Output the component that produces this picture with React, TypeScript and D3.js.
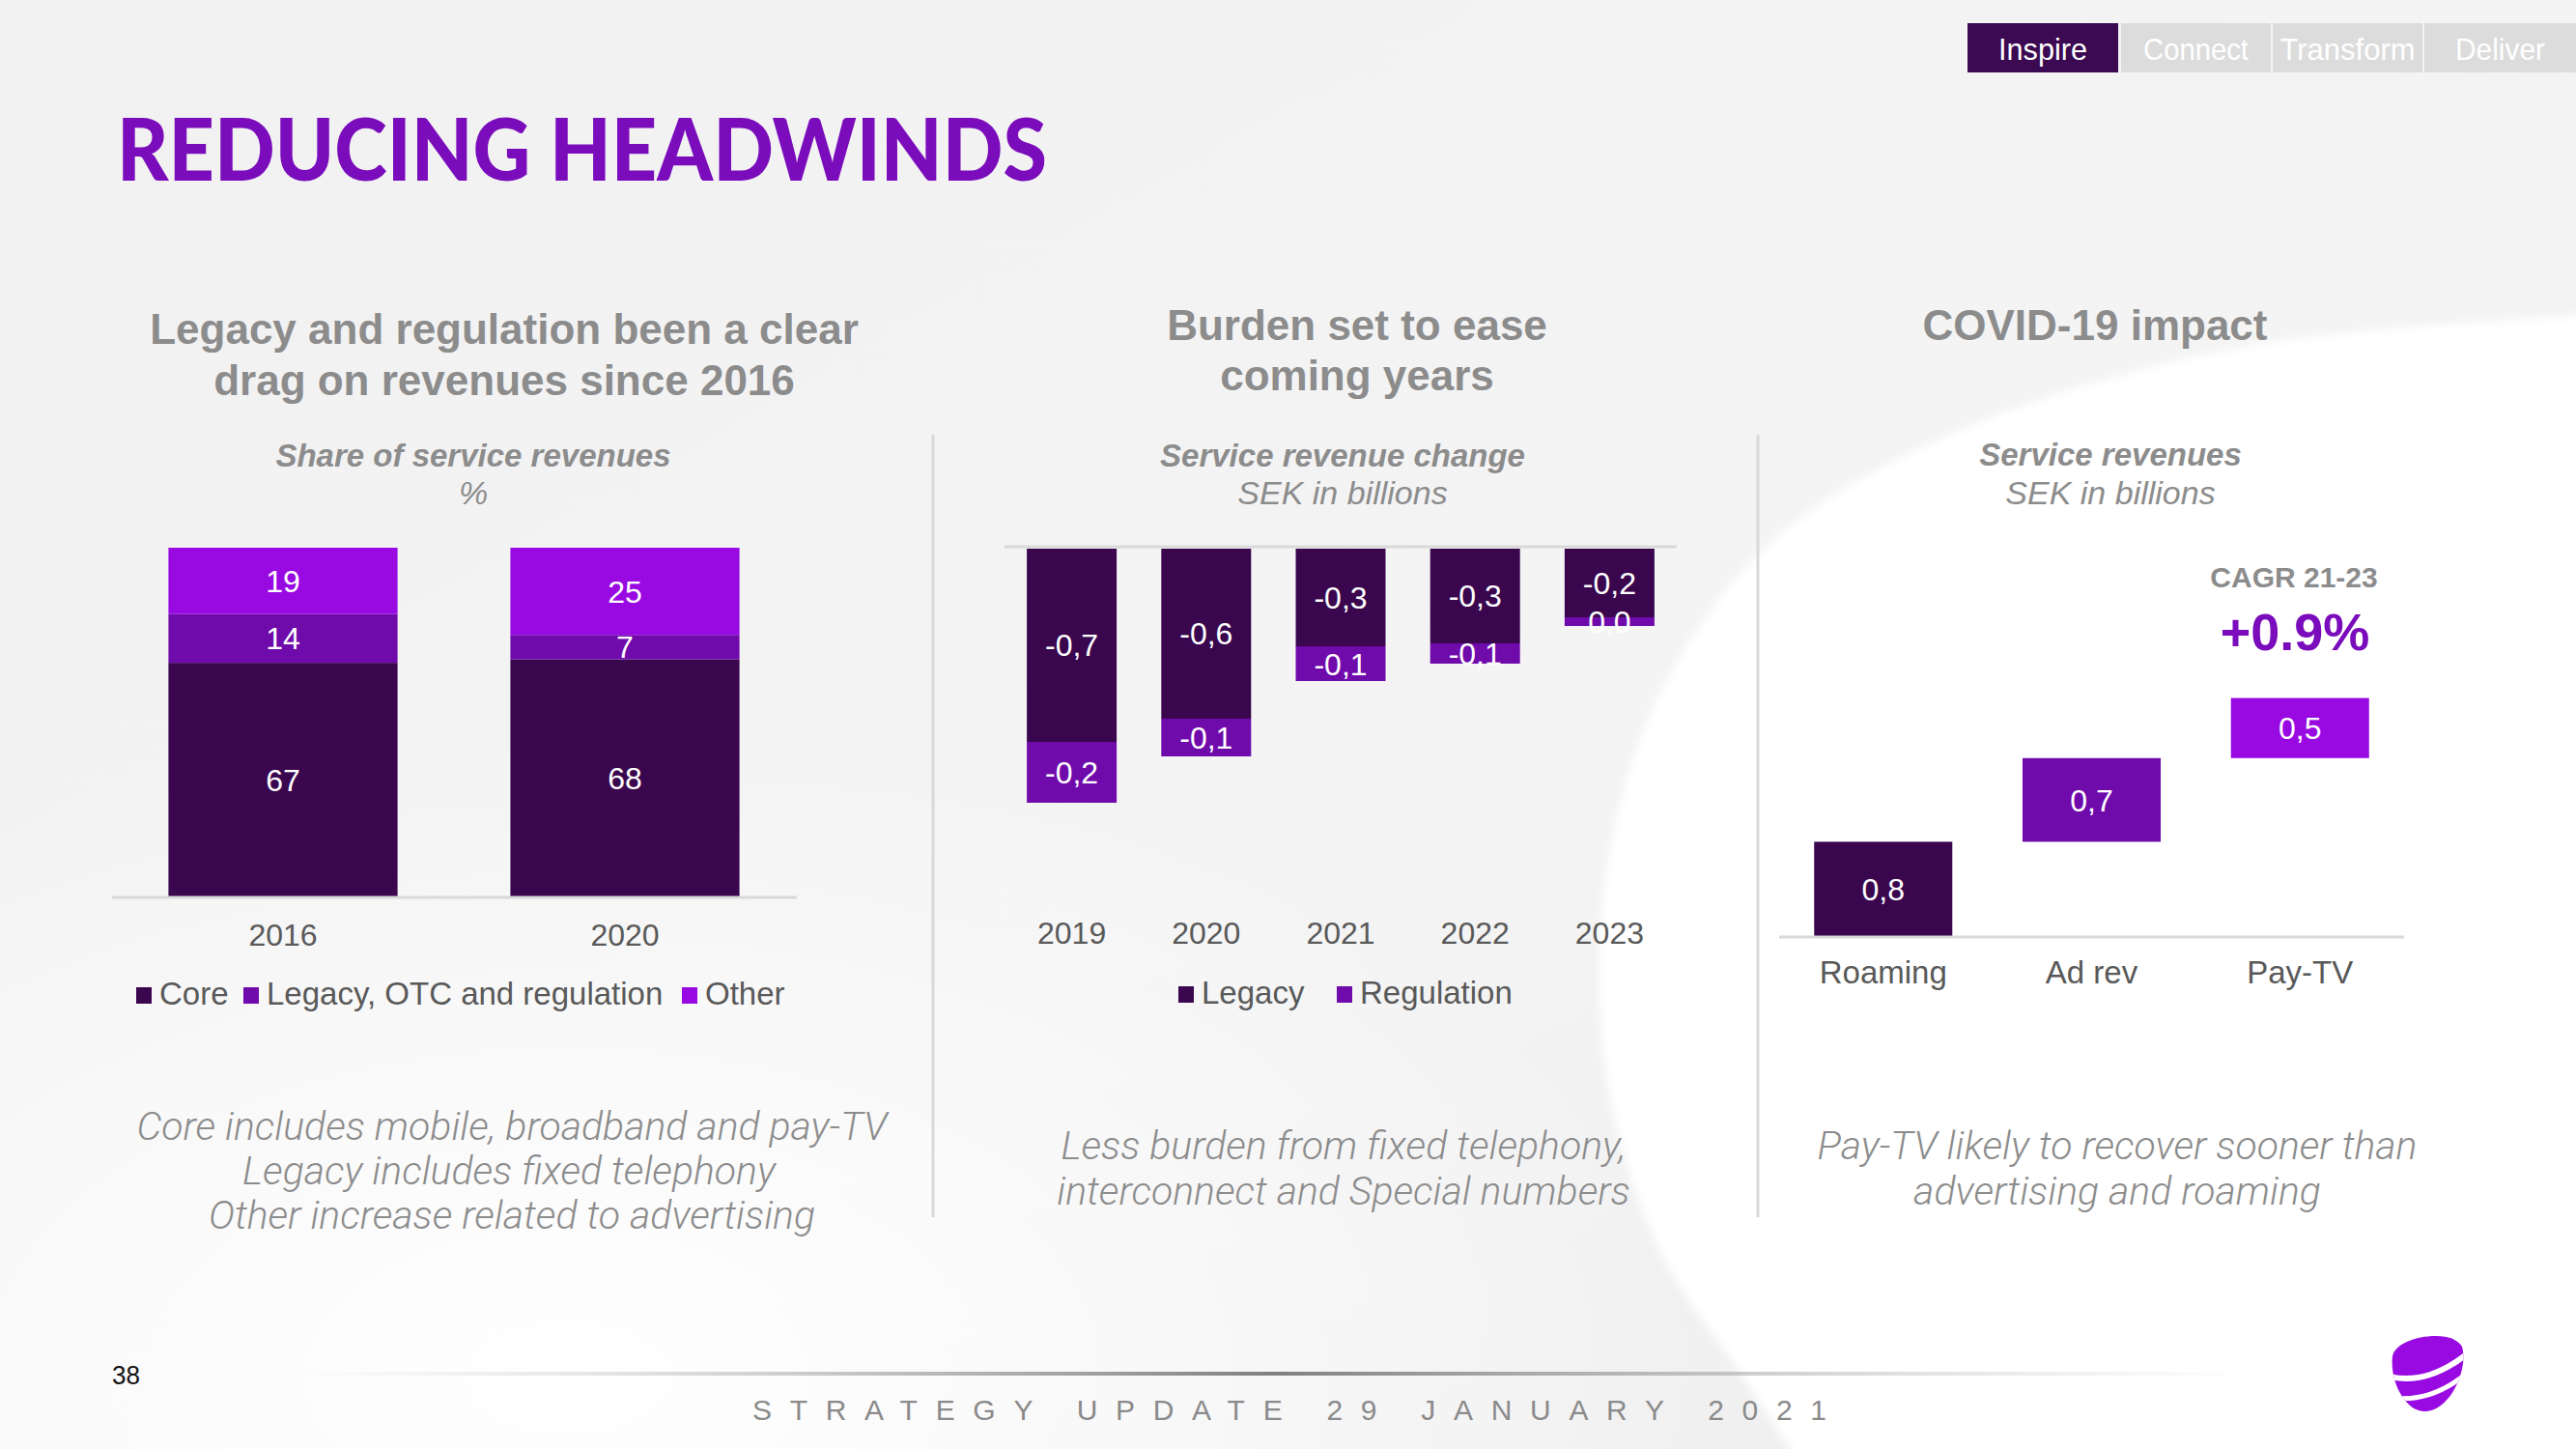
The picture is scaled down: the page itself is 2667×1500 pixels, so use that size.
import React from "react";
import * as d3 from "d3";

const W = 2667;
const H = 1500;

// ---------- Data ----------
const shareYears = ["2016", "2020"];
const coreShare = [67, 68];
const legacyShare = [14, 7];
const otherShare = [19, 25];
const shareSeries = ["Core", "Legacy, OTC and regulation", "Other"];

const changeYears = ["2019", "2020", "2021", "2022", "2023"];
const legacyChange = [-0.67, -0.59, -0.34, -0.33, -0.24];
const regulationChange = [-0.21, -0.13, -0.12, -0.07, -0.03];
const changeSeries = ["Legacy", "Regulation"];

const covidCategories = ["Roaming", "Ad rev", "Pay-TV"];
const covidValues = [0.8, 0.71, 0.51];

const tabs = ["Inspire", "Connect", "Transform", "Deliver"];

// ---------- Style ----------
const DARK = "#3a074f";
const MID = "#6f0aab";
const BRIGHT = "#990ae3";
const TITLE = "#7a0cbb";
const GRAY = "#8c8c8c";
const LABEL = "#595959";
const AXIS = "#d9d9d9";
const SANS = "'Liberation Sans', Arial, Helvetica, sans-serif";

const locale = d3.formatLocale({
  decimal: ",",
  thousands: " ",
  grouping: [3],
  currency: ["", ""],
  minus: "-",
});
const fmt1 = locale.format(".1f");
const fmt0 = locale.format(".0f");

const swooshPts: [number, number][] = [
  [2700, 325],
  [2318, 360],
  [2021, 449],
  [1835, 560],
  [1723, 709],
  [1671, 858],
  [1656, 1007],
  [1671, 1156],
  [1723, 1304],
  [1798, 1416],
  [1860, 1510],
];

export default function App() {
  // ---- Chart 1 : stacked share ----
  const x1 = d3
    .scaleBand<string>()
    .domain(shareYears)
    .range([116, 824])
    .paddingInner(0.33)
    .paddingOuter(0.165);
  const y1 = d3.scaleLinear().domain([0, 100]).range([928, 567]);
  const rows1 = shareYears.map((yr, i) => ({
    year: yr,
    core: coreShare[i],
    legacy: legacyShare[i],
    other: otherShare[i],
  }));
  const stack1 = d3.stack<any>().keys(["core", "legacy", "other"])(rows1);
  const colors1 = [DARK, MID, BRIGHT];

  // ---- Chart 2 : diverging stacked change ----
  const x2 = d3
    .scaleBand<string>()
    .domain(changeYears)
    .range([1040, 1736])
    .paddingInner(0.332)
    .paddingOuter(0.166);
  const y2 = d3.scaleLinear().domain([0, -1]).range([567, 867]);
  const rows2 = changeYears.map((yr, i) => ({
    year: yr,
    legacy: legacyChange[i],
    regulation: regulationChange[i],
  }));
  const stack2 = d3
    .stack<any>()
    .keys(["legacy", "regulation"])
    .offset(d3.stackOffsetDiverging)(rows2);
  const colors2 = [DARK, MID];

  // ---- Chart 3 : waterfall ----
  const x3 = d3
    .scaleBand<string>()
    .domain(covidCategories)
    .range([1842, 2489])
    .paddingInner(0.337)
    .paddingOuter(0.168);
  const y3 = d3.scaleLinear().domain([0, 2.5]).range([969, 664]);
  const cum = Array.from(d3.cumsum(covidValues));
  const starts = cum.map((c, i) => c - covidValues[i]);
  const colors3 = [DARK, MID, BRIGHT];

  const swoosh = d3.line().curve(d3.curveCatmullRom.alpha(0.5))(swooshPts) || "";
  const swooshPath = swoosh + " L2700,1510 L2700,325 Z";

  const tabX = [2037, 2196, 2353, 2510];
  const tabW = [156, 155, 155, 157];
  const tabTextLen = [92, 109, 140, 93];

  return (
    <svg
      width={W}
      height={H}
      viewBox={`0 0 ${W} ${H}`}
      style={{ position: "absolute", left: 0, top: 0, display: "block" }}
      fontFamily={SANS}
    >
      <defs>
        <linearGradient id="bgGrad" x1="0" y1="0" x2="1" y2="1">
          <stop offset="0%" stopColor="#f1f1f2" />
          <stop offset="55%" stopColor="#f4f4f5" />
          <stop offset="100%" stopColor="#eeeeef" />
        </linearGradient>
        <radialGradient id="glow" cx="0.22" cy="0.95" r="0.45">
          <stop offset="0%" stopColor="#ffffff" stopOpacity="1" />
          <stop offset="100%" stopColor="#ffffff" stopOpacity="0" />
        </radialGradient>
        <linearGradient id="footLine" x1="0" y1="0" x2="1" y2="0">
          <stop offset="0%" stopColor="#bdbdbd" stopOpacity="0" />
          <stop offset="50%" stopColor="#808080" stopOpacity="1" />
          <stop offset="100%" stopColor="#bdbdbd" stopOpacity="0" />
        </linearGradient>
        <filter id="soft" x="-5%" y="-5%" width="110%" height="110%">
          <feGaussianBlur stdDeviation="4" />
        </filter>
        <clipPath id="logoClip">
          <path d="M2477,1404 C2480,1384 2538,1374 2549,1394 C2556,1418 2536,1462 2509,1461 C2490,1460 2474,1430 2477,1404 Z" />
        </clipPath>
      </defs>

      {/* Background */}
      <rect x={0} y={0} width={W} height={H} fill="url(#bgGrad)" />
      <rect x={0} y={0} width={W} height={H} fill="url(#glow)" />
      <path d={swooshPath} fill="#ffffff" filter="url(#soft)" />

      {/* Tabs */}
      {tabs.map((t, i) => (
        <g key={t}>
          <rect
            x={tabX[i]}
            y={24}
            width={tabW[i]}
            height={51}
            fill={i === 0 ? "#3b0a52" : "#dcdcdc"}
          />
          <text
            x={tabX[i] + tabW[i] / 2}
            y={62}
            textAnchor="middle"
            fontSize={32}
            fill="#ffffff"
            textLength={tabTextLen[i]}
            lengthAdjust="spacingAndGlyphs"
          >
            {t}
          </text>
        </g>
      ))}

      {/* Title */}
      <text
        x={121}
        y={187}
        fontFamily="Lato, 'Open Sans', sans-serif"
        fontWeight={900}
        fontSize={90}
        fill={TITLE}
        textLength={963}
        lengthAdjust="spacingAndGlyphs"
      >
        REDUCING HEADWINDS
      </text>

      {/* Separators */}
      <line x1={966} x2={966} y1={450} y2={1260} stroke={AXIS} strokeWidth={3} />
      <line x1={1820} x2={1820} y1={450} y2={1260} stroke={AXIS} strokeWidth={3} />

      {/* ---------- Column 1 ---------- */}
      <g fill={GRAY} fontWeight="bold" fontSize={44} textAnchor="middle">
        <text x={522} y={356}>Legacy and regulation been a clear</text>
        <text x={522} y={409}>drag on revenues since 2016</text>
      </g>
      <text x={490} y={483} textAnchor="middle" fill={GRAY} fontSize={33} fontWeight="bold" fontStyle="italic">
        Share of service revenues
      </text>
      <text x={490} y={522} textAnchor="middle" fill={GRAY} fontSize={34} fontStyle="italic">
        %
      </text>
      {stack1.map((s, si) =>
        s.map((d, di) => (
          <rect
            key={`b1-${si}-${di}`}
            x={x1(shareYears[di])}
            y={y1(d[1])}
            width={x1.bandwidth()}
            height={y1(d[0]) - y1(d[1])}
            fill={colors1[si]}
          />
        ))
      )}
      {stack1.map((s, si) =>
        s.map((d, di) => (
          <text
            key={`l1-${si}-${di}`}
            x={(x1(shareYears[di]) || 0) + x1.bandwidth() / 2}
            y={(y1(d[0]) + y1(d[1])) / 2}
            dy="0.36em"
            textAnchor="middle"
            fontSize={32}
            fill="#ffffff"
          >
            {fmt0(d[1] - d[0])}
          </text>
        ))
      )}
      <line x1={116} x2={825} y1={929} y2={929} stroke={AXIS} strokeWidth={3} />
      {shareYears.map((yr) => (
        <text
          key={yr}
          x={(x1(yr) || 0) + x1.bandwidth() / 2}
          y={979}
          textAnchor="middle"
          fontSize={32}
          fill={LABEL}
        >
          {yr}
        </text>
      ))}
      {(() => {
        const lx = [141, 252, 706];
        return shareSeries.map((s, i) => (
          <g key={s}>
            <rect x={lx[i]} y={1022} width={16} height={17} fill={colors1[i]} />
            <text x={lx[i] + 24} y={1040} fontSize={33} fill={LABEL}>
              {s}
            </text>
          </g>
        ));
      })()}
      <g fill={GRAY} fontFamily="Roboto, 'Liberation Sans', sans-serif" fontWeight={300} fontStyle="italic" fontSize={41} textAnchor="middle">
        <text x={530} y={1180}>Core includes mobile, broadband and pay-TV</text>
        <text x={527} y={1226}>Legacy includes fixed telephony</text>
        <text x={530} y={1272}>Other increase related to advertising</text>
      </g>

      {/* ---------- Column 2 ---------- */}
      <g fill={GRAY} fontWeight="bold" fontSize={44} textAnchor="middle">
        <text x={1405} y={352}>Burden set to ease</text>
        <text x={1405} y={404}>coming years</text>
      </g>
      <text x={1390} y={483} textAnchor="middle" fill={GRAY} fontSize={33} fontWeight="bold" fontStyle="italic">
        Service revenue change
      </text>
      <text x={1390} y={522} textAnchor="middle" fill={GRAY} fontSize={34} fontStyle="italic">
        SEK in billions
      </text>
      <line x1={1040} x2={1736} y1={566} y2={566} stroke={AXIS} strokeWidth={3} />
      {stack2.map((s, si) =>
        s.map((d, di) => (
          <rect
            key={`b2-${si}-${di}`}
            x={x2(changeYears[di])}
            y={y2(d[1]) + (si === 0 ? 1 : 0)}
            width={x2.bandwidth()}
            height={y2(d[0]) - y2(d[1]) - (si === 0 ? 1 : 0)}
            fill={colors2[si]}
          />
        ))
      )}
      {stack2.map((s, si) =>
        s.map((d, di) => (
          <text
            key={`l2-${si}-${di}`}
            x={(x2(changeYears[di]) || 0) + x2.bandwidth() / 2}
            y={(y2(d[0]) + y2(d[1])) / 2}
            dy="0.36em"
            textAnchor="middle"
            fontSize={32}
            fill="#ffffff"
          >
            {fmt1(d[0] - d[1])}
          </text>
        ))
      )}
      {changeYears.map((yr) => (
        <text
          key={yr}
          x={(x2(yr) || 0) + x2.bandwidth() / 2}
          y={977}
          textAnchor="middle"
          fontSize={32}
          fill={LABEL}
        >
          {yr}
        </text>
      ))}
      {(() => {
        const lx = [1220, 1384];
        return changeSeries.map((s, i) => (
          <g key={s}>
            <rect x={lx[i]} y={1021} width={16} height={17} fill={colors2[i]} />
            <text x={lx[i] + 24} y={1039} fontSize={33} fill={LABEL}>
              {s}
            </text>
          </g>
        ));
      })()}
      <g fill={GRAY} fontFamily="Roboto, 'Liberation Sans', sans-serif" fontWeight={300} fontStyle="italic" fontSize={41} textAnchor="middle">
        <text x={1391} y={1200}>Less burden from fixed telephony,</text>
        <text x={1391} y={1247}>interconnect and Special numbers</text>
      </g>

      {/* ---------- Column 3 ---------- */}
      <text x={2169} y={352} textAnchor="middle" fill={GRAY} fontSize={44} fontWeight="bold">
        COVID-19 impact
      </text>
      <text x={2185} y={482} textAnchor="middle" fill={GRAY} fontSize={33} fontWeight="bold" fontStyle="italic">
        Service revenues
      </text>
      <text x={2185} y={522} textAnchor="middle" fill={GRAY} fontSize={34} fontStyle="italic">
        SEK in billions
      </text>
      <text x={2375} y={608} textAnchor="middle" fill={GRAY} fontSize={30} fontWeight="bold">
        CAGR 21-23
      </text>
      <text x={2376} y={673} textAnchor="middle" fill={TITLE} fontSize={54} fontWeight="bold">
        +0.9%
      </text>
      {covidCategories.map((c, i) => (
        <rect
          key={`b3-${c}`}
          x={x3(c)}
          y={y3(cum[i])}
          width={x3.bandwidth()}
          height={y3(starts[i]) - y3(cum[i])}
          fill={colors3[i]}
        />
      ))}
      {covidCategories.map((c, i) => (
        <text
          key={`l3-${c}`}
          x={(x3(c) || 0) + x3.bandwidth() / 2}
          y={(y3(cum[i]) + y3(starts[i])) / 2}
          dy="0.36em"
          textAnchor="middle"
          fontSize={32}
          fill="#ffffff"
        >
          {fmt1(covidValues[i])}
        </text>
      ))}
      <line x1={1842} x2={2489} y1={970} y2={970} stroke={AXIS} strokeWidth={3} />
      {covidCategories.map((c) => (
        <text
          key={c}
          x={(x3(c) || 0) + x3.bandwidth() / 2}
          y={1018}
          textAnchor="middle"
          fontSize={33}
          fill={LABEL}
        >
          {c}
        </text>
      ))}
      <g fill={GRAY} fontFamily="Roboto, 'Liberation Sans', sans-serif" fontWeight={300} fontStyle="italic" fontSize={41} textAnchor="middle">
        <text x={2192} y={1200}>Pay-TV likely to recover sooner than</text>
        <text x={2192} y={1247}>advertising and roaming</text>
      </g>

      {/* ---------- Footer ---------- */}
      <text x={116} y={1433} fontSize={27} fill="#111111" textLength={29} lengthAdjust="spacingAndGlyphs">
        38
      </text>
      <rect x={306} y={1420} width={2024} height={4} fill="url(#footLine)" />
      <text
        x={779}
        y={1470}
        fontSize={30}
        fill="#8a8a8a"
        textLength={1112}
        lengthAdjust="spacing"
      >
        STRATEGY UPDATE 29 JANUARY 2021
      </text>
      <g clipPath="url(#logoClip)">
        <rect x={2470} y={1375} width={90} height={95} fill={BRIGHT} />
        <path d="M2470,1424 Q2512,1436 2556,1400" stroke="#ffffff" strokeWidth={6} fill="none" />
        <path d="M2478,1447 Q2518,1452 2556,1420" stroke="#ffffff" strokeWidth={5} fill="none" />
      </g>
    </svg>
  );
}
